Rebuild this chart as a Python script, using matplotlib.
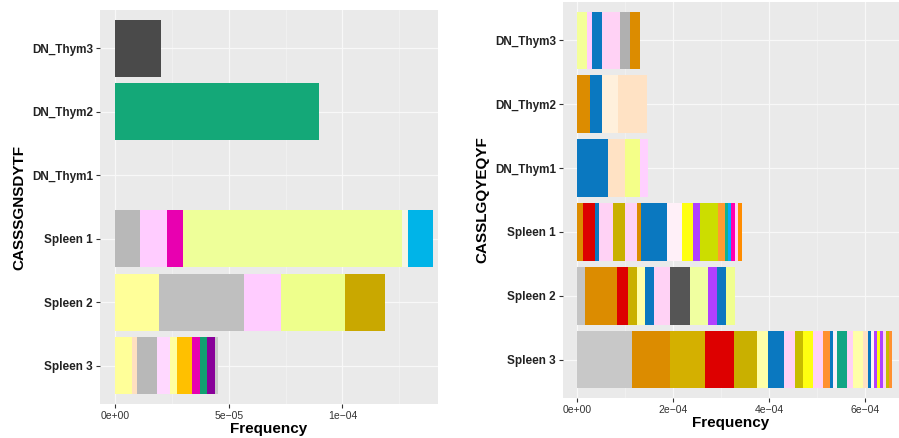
import matplotlib
matplotlib.use("Agg")
import matplotlib.pyplot as plt
import numpy as np

plt.rcParams['font.family'] = ['Liberation Sans', 'DejaVu Sans']

samples = ['DN_Thym3', 'DN_Thym2', 'DN_Thym1', 'Spleen 1', 'Spleen 2', 'Spleen 3']

# clone frequencies per sample, CASSSGNSDYTF (x 1e-6)
sgn_thym3 = [20.0]
sgn_thym2 = [89.5]
sgn_thym1 = []
sgn_spleen1 = [11, 12, 7, 96, 3, 11]
sgn_spleen2 = [19.4, 37.4, 16.3, 27.8, 17.6]
sgn_spleen3 = [7.5, 2.2, 8.8, 5.7, 3.1, 6.6, 3.5, 3.1, 3.5, 1.4]

# clone frequencies per sample, CASSLGQYEQYF (x 1e-5)
lgq_thym3 = [2.1, 1.0, 2.1, 3.8, 2.0, 2.1]
lgq_thym2 = [2.7, 2.5, 3.3, 6.1]
lgq_thym1 = [6.5, 3.5, 3.1, 1.7]
lgq_spleen1 = [1.25, 2.5, 0.83, 2.92, 2.5, 2.5, 0.83, 5.42, 3.15, 2.3, 1.4, 3.8,
               1.4, 0.7, 0.6, 0.8, 0.6, 0.9]
lgq_spleen2 = [1.67, 6.66, 2.27, 1.9, 1.7, 1.8, 3.4, 4.1, 3.8, 1.9, 1.8, 1.9]
lgq_spleen3 = [11.46, 7.92, 7.29, 6.04, 4.79, 2.29, 3.34, 2.29, 1.66, 2.09, 2.08,
               1.46, 0.62, 0.84, 2.08, 1.25, 2.08, 1.05, 0.62, 0.63, 0.62, 0.63,
               0.62, 0.63, 0.62, 0.63]

# fill colours, one per clone
OR, BL, RD, OL = '#dc8c00', '#0a78c0', '#dd0000', '#c9b000'
PP, PY, PE = '#ffd2f5', '#ffffa8', '#ffe2c4'

sgn_cols = [
    ['#4a4a4a'],
    ['#14a878'],
    [],
    ['#b8b8b8', '#ffccff', '#e800b0', '#eeff99', '#f6f6e6', '#00b4e8'],
    ['#ffff99', '#bfbfbf', '#ffccff', '#eeff8c', '#c9a800'],
    ['#ffff99', '#ffe0c0', '#b8b8b8', '#ffd8ff', '#ffffa0', '#ffc000',
     '#e800b0', '#10a070', '#880099', '#c8c8c8'],
]
lgq_cols = [
    ['#f4ff99', '#ffccff', BL, PP, '#b0b0b0', OR],
    [OR, BL, '#fff0dc', PE],
    [BL, PE, '#f4ff88', '#ffd0ff'],
    [OR, RD, BL, PP, OL, PP, OR, BL, '#fff0f8', '#ffff10', '#b040ff', '#ccdd00',
     '#ff9a30', '#10b090', '#00aaff', '#ff00b0', PP, '#ff8c00'],
    ['#c4c4c4', OR, RD, OL, PY, BL, PP, '#555555', '#f0ffa0', '#b040ff', BL,
     '#f0ff90'],
    ['#c8c8c8', OR, '#d4b000', RD, OL, PY, BL, PP, '#c8bc00', '#ffff10', PP,
     '#ff9030', BL, '#f8f0f8', '#12a585', PP, PY, PE, BL, '#fff4f4', '#b040ff',
     '#ffff10', '#b040ff', PP, '#c8bc00', '#ff9030'],
]

sgn_rows = [sgn_thym3, sgn_thym2, sgn_thym1, sgn_spleen1, sgn_spleen2, sgn_spleen3]
lgq_rows = [lgq_thym3, lgq_thym2, lgq_thym1, lgq_spleen1, lgq_spleen2, lgq_spleen3]

fig = plt.figure(figsize=(8.99, 4.38), dpi=100)
ax1 = fig.add_axes([100 / 899, 1 - 404 / 438, 338 / 899, 394 / 438])
ax2 = fig.add_axes([563 / 899, 1 - 398 / 438, 336 / 899, 396 / 438])


def stacked(ax, rows, cols, scale):
    ypos = np.arange(len(samples))[::-1]
    for y, vals, cc in zip(ypos, rows, cols):
        if not vals:
            continue
        w = np.array(vals) * scale
        left = np.concatenate([[0], np.cumsum(w)[:-1]])
        ax.barh(y, w, left=left, height=0.9, color=cc, linewidth=0, zorder=3)
    ax.set_yticks(ypos)
    ax.set_yticklabels(samples)
    ax.set_ylim(-0.6, len(samples) - 0.4)


def theme(ax, major, minor, labels, ylab):
    ax.set_facecolor('#eaeaea')
    for s in ax.spines.values():
        s.set_visible(False)
    ax.set_xticks(major)
    ax.set_xticklabels(labels)
    ax.set_xticks(minor, minor=True)
    ax.grid(True, which='major', color='#f8f8f8', linewidth=0.9, zorder=0)
    ax.grid(True, which='minor', axis='x', color='#f4f4f4', linewidth=0.5, zorder=0)
    ax.tick_params(axis='x', which='minor', length=0)
    ax.tick_params(axis='both', which='major', length=3, width=0.8,
                   color='#333333', pad=2)
    ax.tick_params(axis='x', labelsize=7.5, labelcolor='#333333')
    ax.tick_params(axis='y', labelsize=8.5, labelcolor='#222222')
    for t in ax.get_yticklabels():
        t.set_fontweight('bold')
    ax.set_xlabel('Frequency', fontsize=11, fontweight='bold', labelpad=1)
    ax.set_ylabel(ylab, fontsize=11, fontweight='bold', labelpad=4)


stacked(ax1, sgn_rows, sgn_cols, 1e-6)
ax1.set_xlim(-6.6e-6, 142e-6)
theme(ax1, [0, 5e-5, 1e-4], [2.5e-5, 7.5e-5, 1.25e-4],
      ['0e+00', '5e\u221205', '1e\u221204'], 'CASSSGNSDYTF')

stacked(ax2, lgq_rows, lgq_cols, 1e-5)
ax2.set_xlim(-2.9e-5, 67.1e-5)
theme(ax2, [0, 2e-4, 4e-4, 6e-4], [1e-4, 3e-4, 5e-4],
      ['0e+00', '2e\u221204', '4e\u221204', '6e\u221204'], 'CASSLGQYEQYF')

fig.savefig('out.png', dpi=100)
